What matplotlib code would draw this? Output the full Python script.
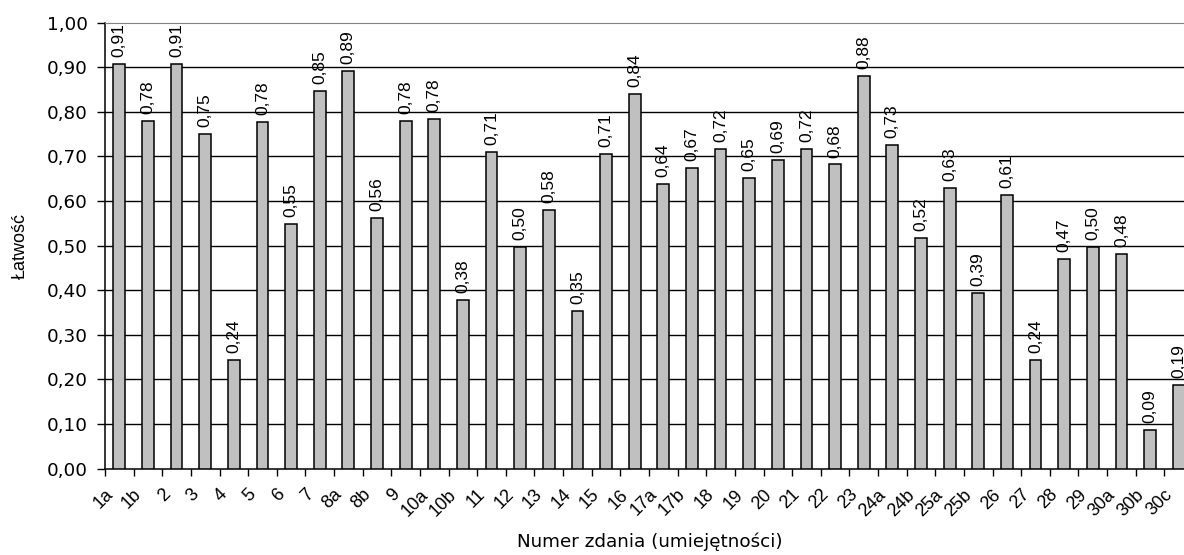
import matplotlib.pyplot as plt
import numpy as np
from matplotlib.transforms import ScaledTranslation

# zadania (umiejętności) i łatwość
categories = ['1a', '1b', '2', '3', '4', '5', '6', '7', '8a', '8b', '9', '10a',
              '10b', '11', '12', '13', '14', '15', '16', '17a', '17b', '18', '19',
              '20', '21', '22', '23', '24a', '24b', '25a', '25b', '26', '27', '28',
              '29', '30a', '30b', '30c']
values = [0.907, 0.780, 0.907, 0.750, 0.243, 0.777, 0.548, 0.847, 0.892, 0.563,
          0.780, 0.784, 0.377, 0.709, 0.496, 0.579, 0.354, 0.706, 0.840, 0.639,
          0.674, 0.716, 0.652, 0.693, 0.716, 0.682, 0.881, 0.726, 0.518, 0.630,
          0.394, 0.614, 0.243, 0.470, 0.497, 0.482, 0.086, 0.187]
y_ticks = [0.0, 0.1, 0.2, 0.3, 0.4, 0.5, 0.6, 0.7, 0.8, 0.9, 1.0]

W, H = 1184, 555
fig = plt.figure(figsize=(W / 100, H / 100), dpi=100)
# plot area extends past the right edge of the picture (cropped chart)
left, right, top, bottom = 105, 1193, 22.7, 468.5
ax = fig.add_axes([left / W, 1 - bottom / H, (right - left) / W, (bottom - top) / H])

x = np.arange(len(categories))
bars = ax.bar(x, values, width=0.41, color='#C0C0C0', edgecolor='black',
              linewidth=1.1, zorder=3)

for xi, v in zip(x, values):
    ax.annotate(f'{v:.2f}'.replace('.', ','), (xi, v), xytext=(0, 5),
                textcoords='offset points', rotation=90, ha='center', va='bottom',
                fontsize=12.5, family='Liberation Sans', zorder=4)

ax.set_xlim(-0.5, len(categories) - 0.5)
ax.set_ylim(0, 1.0)

ax.set_yticks(y_ticks)
ax.set_yticklabels([f'{t:.2f}'.replace('.', ',') for t in y_ticks],
                   family='DejaVu Sans', fontsize=13.2)
ax.tick_params(axis='y', direction='out', length=6, width=1, pad=6.5)

ax.set_xticks(x)
ax.set_xticklabels(categories, rotation=45, ha='right', rotation_mode='anchor',
                   va='center', family='Liberation Sans', fontsize=13)
ax.set_xticks(np.arange(len(categories) + 1) - 0.5, minor=True)
ax.tick_params(axis='x', which='major', length=0, pad=17)
ax.tick_params(axis='x', which='minor', direction='out', length=5, width=1)
shift = ScaledTranslation(-0.09, 0, fig.dpi_scale_trans)
for lbl in ax.get_xticklabels():
    lbl.set_transform(lbl.get_transform() + shift)

for t in y_ticks[1:-1]:
    ax.axhline(t, color='black', linewidth=1, zorder=1)

ax.spines['top'].set_color('#808080')
ax.spines['right'].set_color('#808080')
ax.spines['left'].set_linewidth(1.1)
ax.spines['bottom'].set_linewidth(1.1)

fig.text(20 / W, 1 - 246 / H, 'Łatwość', rotation=90, ha='center', va='center',
         family='Liberation Sans', fontsize=13)
fig.text(650 / W, 1 - 542 / H, 'Numer zdania (umiejętności)', ha='center',
         va='center', family='DejaVu Sans', fontsize=13.2)

fig.savefig('out.png', dpi=100)
